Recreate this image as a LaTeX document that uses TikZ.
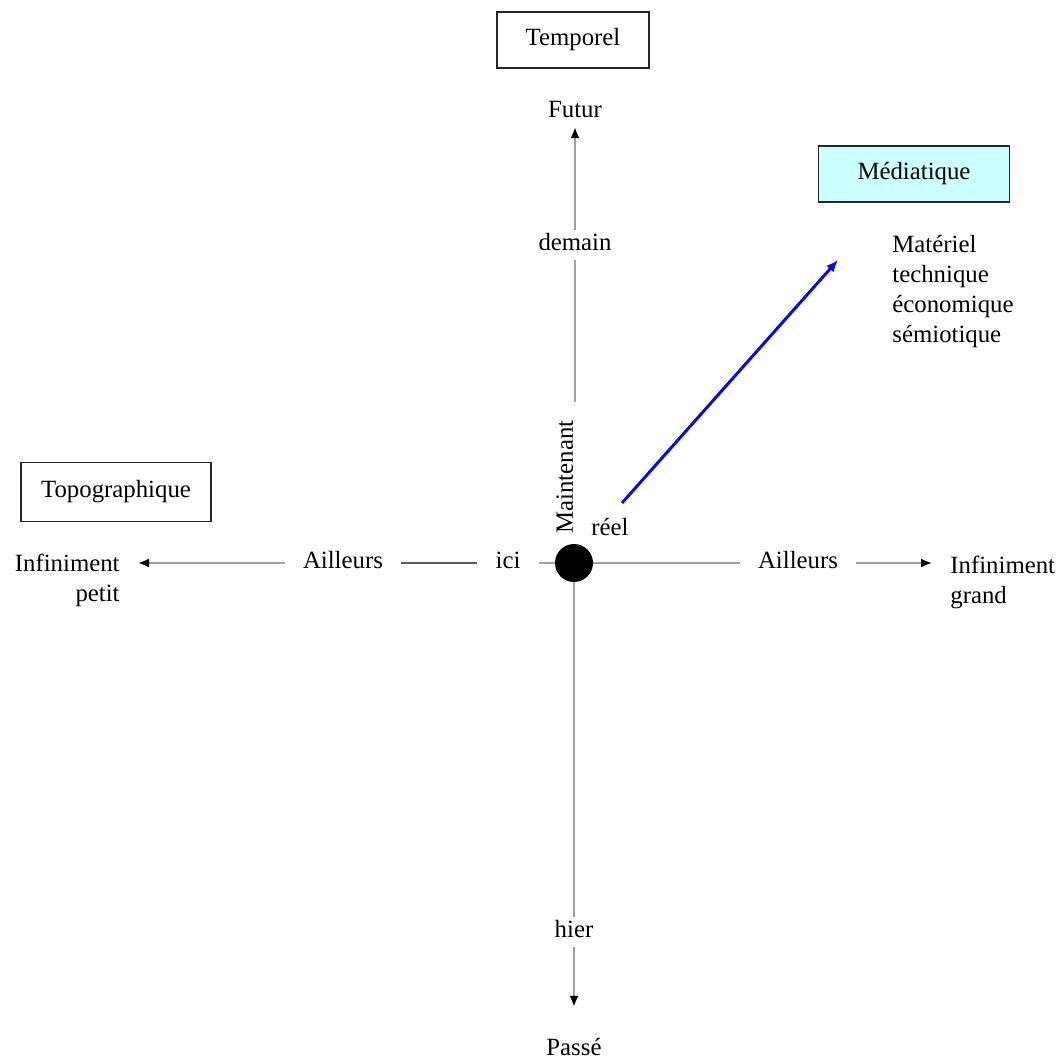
\documentclass[tikz,border=0pt]{standalone}
\usepackage{fontspec}
\setmainfont{Liberation Serif}
\usetikzlibrary{arrows.meta}
\definecolor{axisgray}{RGB}{160,160,160}
\definecolor{darkgray}{RGB}{90,90,90}
\definecolor{lightcyan}{RGB}{204,255,255}
\definecolor{arrowblue}{RGB}{10,10,225}
\begin{document}
\begin{tikzpicture}[x=0.5pt,y=-0.5pt,font=\fontsize{12.4}{15}\selectfont]
	\tikzstyle{Box} = [draw=black!85, line width=0.7pt, minimum height=28pt]
	\tikzstyle{Label} = [inner xsep=9pt, inner ysep=3pt, text height=1.6ex, text depth=0.3ex]
	\tikzstyle{Axe} = [draw=axisgray, line width=1pt]
	\tikzstyle{Tip} = [-{Latex[length=5.5pt,width=4.5pt,color=black]}]
	\useasboundingbox (0,0) rectangle (1061,1060);
	\node (temporel) at (573,40) [Box, minimum width=76pt] {Temporel};
	\node (topo) at (116,492) [Box, minimum width=95pt, minimum height=29.5pt] {Topographique};
	\node (mediatique) at (914,174) [Box, minimum width=95.5pt, fill=lightcyan] {Médiatique};
	\node (futur) at (575,112) [Label] {Futur};
	\node (demain) at (575,245) [Label] {demain};
	\node (maintenant) at (567,477) [Label, rotate=90] {Maintenant};
	\node (centre) at (574,563) [circle, fill=black, minimum size=19pt, inner sep=0pt] {};
	\node (reel) at (610,530) [Label] {réel};
	\node (hier) at (574,932) [Label] {hier};
	\node (passe) at (574,1050) [Label] {Passé};
	\node (ici) at (508,563) [Label] {ici};
	\node (ailleursG) at (343,563) [Label] {Ailleurs};
	\node (ailleursD) at (798,563) [Label] {Ailleurs};
	\node (petit) at (120,554) [anchor=north east, align=right, inner sep=0pt] {Infiniment\\petit};
	\node (grand) at (950,556) [anchor=north west, align=left, inner sep=0pt] {Infiniment\\grand};
	\node (materiel) at (892,235) [anchor=north west, align=left, inner sep=0pt] {Matériel\\technique\\économique\\sémiotique};
	\coordinate (depart) at (622,503);
	\coordinate (pointe) at (838,260);
	\draw [Axe, Tip] (demain) to (futur);
	\draw [Axe] (demain) to (demain |- maintenant.east);
	\draw [Axe] (centre) to (hier);
	\draw [Axe, Tip, shorten >=14pt] (hier) to (passe);
	\draw [Axe, Tip, shorten >=9pt] (ailleursG) to (ailleursG -| petit.east);
	\draw [draw=darkgray, line width=1pt] (ici) to (ailleursG);
	\draw [Axe] (centre) to (ici);
	\draw [Axe] (centre) to (ailleursD);
	\draw [Axe, Tip, shorten >=9pt] (ailleursD) to (ailleursD -| grand.west);
	\draw [arrowblue, line width=1.5pt, -{Latex[length=6pt,width=5pt]}] (depart) to (pointe);
\end{tikzpicture}
\end{document}
